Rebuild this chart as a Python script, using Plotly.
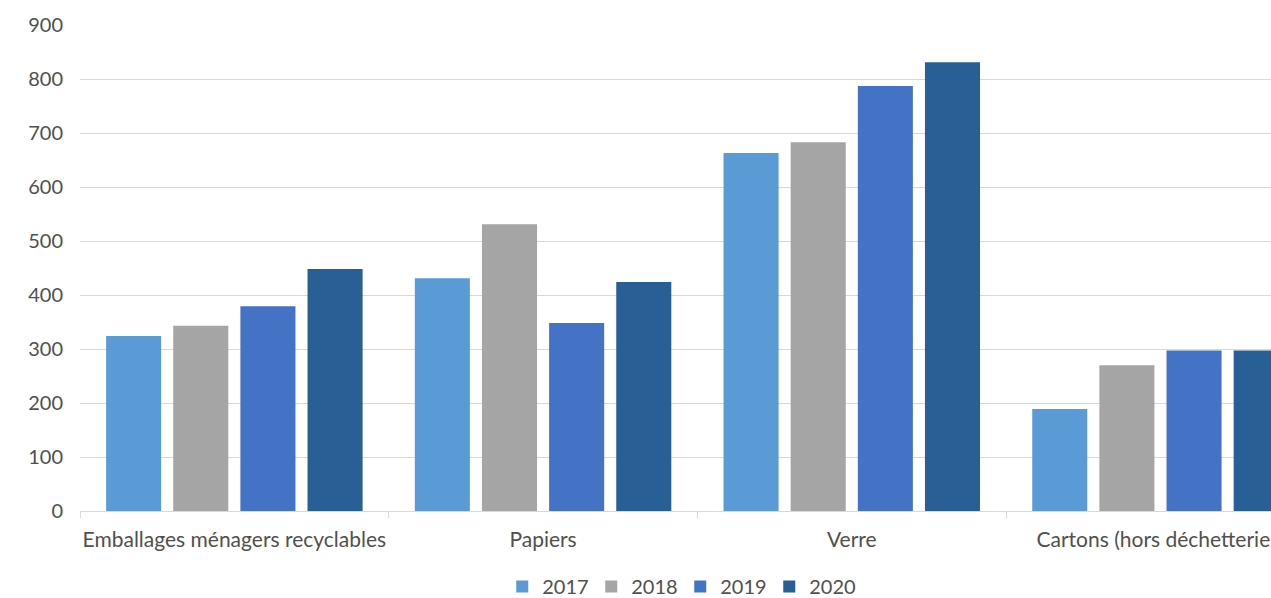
import plotly.graph_objects as go

categories = ['Emballages ménagers recyclables', 'Papiers', 'Verre', 'Cartons (hors déchetteries)']
years = ['2017', '2018', '2019', '2020']
v2017 = [324, 431, 663, 189]
v2018 = [343, 531, 683, 270]
v2019 = [379, 348, 787, 297]
v2020 = [448, 424, 831, 297]
y_ticks = [0, 100, 200, 300, 400, 500, 600, 700, 800, 900]

colors = ['#5b9bd5', '#a5a5a5', '#4472c4', '#285f95']
values = [v2017, v2018, v2019, v2020]

fig = go.Figure()
for year, vals, col in zip(years, values, colors):
    fig.add_trace(go.Bar(x=categories, y=vals, name=year,
                         marker=dict(color=col, line=dict(width=0))))

font_txt = dict(family='Lato, Carlito, sans-serif', size=20, color='#505050')

# figure a bit taller than the window so the legend sits near the bottom edge like in the source
fig.update_layout(
    width=1271, height=606,
    margin=dict(l=80, r=0, t=25, b=95),
    plot_bgcolor='white', paper_bgcolor='white',
    barmode='group', bargap=0.13, bargroupgap=0.18,
    font=font_txt,
    showlegend=True,
    legend=dict(orientation='h', x=0.504, xanchor='center',
                yref='container', y=0.0, yanchor='bottom',
                font=font_txt, itemwidth=30, entrywidth=44, traceorder='normal'),
)
fig.update_xaxes(range=[-0.5, 3.358], showline=True, linecolor='#d9d9d9', linewidth=1,
                 ticks='outside', tickson='boundaries', ticklen=6, tickcolor='#d9d9d9',
                 ticklabelstandoff=10, showgrid=False, automargin=False, tickangle=0,
                 tickfont=dict(family='Lato, Carlito, sans-serif', size=21, color='#505050'))
fig.update_yaxes(range=[0, 900], tickvals=y_ticks, showgrid=True, gridcolor='#d9d9d9',
                 gridwidth=1, zeroline=False, ticklabelstandoff=16, automargin=False,
                 tickfont=font_txt)

fig.write_html("out.html", config={'displayModeBar': False},
               post_script="document.body.style.margin='0';document.body.style.overflow='hidden';")
